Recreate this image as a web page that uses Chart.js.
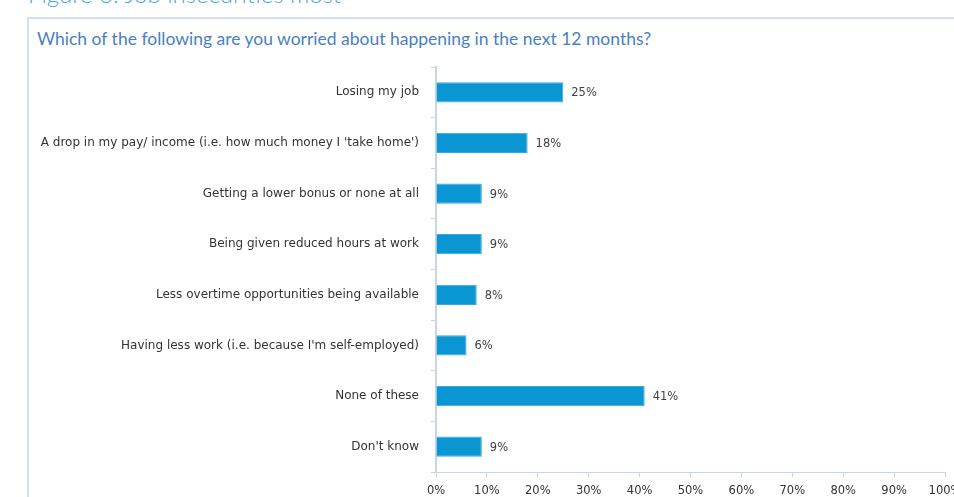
<!DOCTYPE html>
<html>
<head>
<meta charset="utf-8">
<title>Job insecurities</title>
<script src="https://cdn.jsdelivr.net/npm/chart.js@4.4.1/dist/chart.umd.min.js"></script>
<style>
    html, body { margin: 0; padding: 0; background: #fff; }
    body { width: 954px; height: 497px; overflow: hidden; position: relative; font-family: "DejaVu Sans", sans-serif; }
    .fig-title { position: absolute; left: 28px; top: -18px; font-size: 24px; line-height: 24px; color: #4ba6de; white-space: nowrap; font-family: Lato, sans-serif; font-weight: 300; }
    .panel { position: absolute; left: 27px; top: 17px; width: 940px; height: 500px; border-top: 2px solid #d8dfe7; border-left: 2px solid #d8dfe7; }
    .question { position: absolute; left: 37px; top: 28px; font-size: 17.5px; color: #4a80c0; white-space: nowrap; font-family: Lato, sans-serif; }
    #worries { position: absolute; left: 0; top: 0; }
</style>
</head>
<body>
<div class="fig-title">Figure 6: Job insecurities most</div>
<div class="panel"></div>
<div class="question">Which of the following are you worried about happening in the next 12 months?</div>
<canvas id="worries" width="980" height="497"></canvas>

<script>
    "use strict";

    // survey answers, top to bottom
    var categories = [
        "Losing my job",
        "A drop in my pay/ income (i.e. how much money I 'take home')",
        "Getting a lower bonus or none at all",
        "Being given reduced hours at work",
        "Less overtime opportunities being available",
        "Having less work (i.e. because I'm self-employed)",
        "None of these",
        "Don't know"
    ];
    var values = [25, 18, 9, 9, 8, 6, 41, 9];

    // x axis runs 0% - 100% in steps of 10
    var axisMin = 0;
    var axisMax = 100;
    var axisStep = 10;

    var lineColor = "#c9d5e3";

    // writes the percentage just past the end of every bar
    var barValueLabels = {
        id: "barValueLabels",
        afterDatasetsDraw: function(chart) {
            var ctx = chart.ctx;
            var meta = chart.getDatasetMeta(0);
            ctx.save();
            ctx.font = "11.5px 'DejaVu Sans'";
            ctx.fillStyle = "#404040";
            ctx.textBaseline = "middle";
            meta.data.forEach(function(bar, i) {
                ctx.fillText(values[i] + "%", bar.x + 8, bar.y + 1);
            });
            ctx.restore();
        }
    };

    var ctx = document.getElementById("worries").getContext("2d");
    new Chart(ctx, {
        type: "bar",
        data: {
            labels: categories,
            datasets: [{
                data: values,
                backgroundColor: "#0a95d3",
                borderColor: "#3aa8dc",
                borderWidth: 1,
                barPercentage: 0.4,
                categoryPercentage: 1
            }]
        },
        options: {
            indexAxis: "y",
            responsive: false,
            animation: false,
            layout: { padding: { left: 0, top: 67, right: 35, bottom: 0 } },
            plugins: {
                legend: { display: false },
                tooltip: { enabled: false }
            },
            scales: {
                y: {
                    grid: { drawOnChartArea: false, tickLength: 5, color: lineColor, offset: true },
                    border: { color: lineColor, width: 2 },
                    ticks: { color: "#333", font: { family: "DejaVu Sans", size: 12 }, padding: 12 },
                    afterFit: function(scale) { scale.width = 436; }
                },
                x: {
                    min: axisMin,
                    max: axisMax,
                    grid: { drawOnChartArea: false, tickLength: 5, color: lineColor },
                    border: { color: lineColor, width: 1 },
                    ticks: {
                        stepSize: axisStep,
                        color: "#333",
                        font: { family: "DejaVu Sans", size: 11.5 },
                        padding: 7,
                        callback: function(v) { return v + "%"; }
                    },
                    afterFit: function(scale) { scale.height = 25; }
                }
            }
        },
        plugins: [barValueLabels]
    });
</script>
</body>
</html>
